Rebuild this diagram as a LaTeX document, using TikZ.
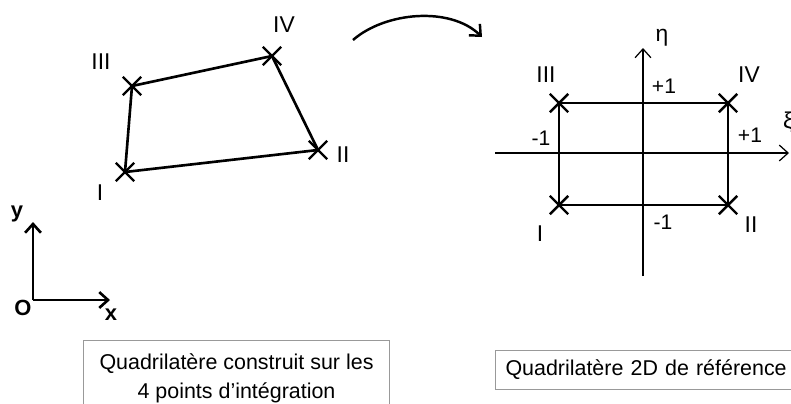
\documentclass[tikz,border=0pt]{standalone}
\usepackage{fontspec}
\setmainfont{Liberation Sans}
\usetikzlibrary{arrows.meta,positioning,shapes.misc}

\tikzset{
  gpt/.style={cross out, draw, line width=1.4pt, minimum size=9pt, inner sep=0pt},
  lbl/.style={font=\fontsize{13}{15}\selectfont, inner sep=1pt},
  small/.style={font=\fontsize{12}{14}\selectfont, inner sep=1pt},
  axlbl/.style={font=\bfseries\fontsize{12.5}{15}\selectfont, inner sep=1pt},
  caption/.style={draw=gray!80, line width=0.6pt, font=\fontsize{12.2}{14.7}\selectfont},
  edge/.style={line width=1.5pt},
}

\begin{document}
\begin{tikzpicture}[x=0.02cm, y=-0.02cm, >={Straight Barb[length=5pt,width=9pt]}]
  \useasboundingbox (0,0) rectangle (791,403);

  % real quadrilateral
  \node[gpt] (I) at (125,172) {};
  \node[gpt] (II) at (318,150) {};
  \node[gpt] (III) at (132,86) {};
  \node[gpt] (IV) at (272,56) {};
  \draw[edge] (I.center) -- (II.center) -- (IV.center) -- (III.center) -- cycle;
  \node[lbl] (lI) at (100,193) {I};
  \node[lbl] (lII) at (343,155) {II};
  \node[lbl] (lIII) at (101,62) {III};
  \node[lbl] (lIV) at (284,25) {IV};

  % x-y frame
  \coordinate (O) at (33,300);
  \coordinate (xend) at (110,300);
  \coordinate (yend) at (33,222);
  \draw[edge, ->] (O) -- (xend);
  \draw[edge, ->] (O) -- (yend);
  \node[axlbl] (lO) at (23,308) {O};
  \node[axlbl] (lx) at (111,315) {x};
  \node[axlbl] (ly) at (17,214) {y};

  % mapping arrow
  \coordinate (mapA) at (353,40);
  \coordinate (mapB) at (482,37);
  \draw[line width=1.4pt, ->] (mapA) .. controls (385,12) and (450,6) .. (mapB);

  % reference square
  \coordinate (xiL) at (495,153);
  \coordinate (xiR) at (789,153);
  \coordinate (etaB) at (643,276);
  \coordinate (etaT) at (643,48);
  \draw[line width=0.7pt, ->] (xiL) -- (xiR);
  \draw[line width=0.7pt, ->] (etaB) -- (etaT);
  \node[gpt] (rI) at (559,205) {};
  \node[gpt] (rII) at (728,205) {};
  \node[gpt] (rIII) at (559,103) {};
  \node[gpt] (rIV) at (728,103) {};
  \draw[edge] (rI.center) -- (rII.center) -- (rIV.center) -- (rIII.center) -- cycle;
  \node[lbl] (lrI) at (540,234) {I};
  \node[lbl] (lrII) at (751,225) {II};
  \node[lbl] (lrIII) at (546,75) {III};
  \node[lbl] (lrIV) at (749,75) {IV};
  \node[small] (p1t) at (664,86) {+1};
  \node[small] (m1b) at (663,222) {-1};
  \node[small] (m1l) at (541,138) {-1};
  \node[small] (p1r) at (750,135) {+1};
  \node[lbl] (eta) at (662,38) {η};
  \node[lbl, anchor=west] (xi) at (781,122) {ξ};

  % captions
  \node[caption, anchor=north west, minimum width=306*0.02cm, minimum height=1.5cm, align=center] (capL) at (83,340)
    {Quadrilatère construit sur les\\[2pt]4 points d’intégration};
  \node[caption, anchor=north west, minimum height=0.78cm, text width=6cm, inner xsep=0.2cm, align=left] (capR) at (495,350)
    {Quadrilatère 2D de référence};
\end{tikzpicture}
\end{document}
